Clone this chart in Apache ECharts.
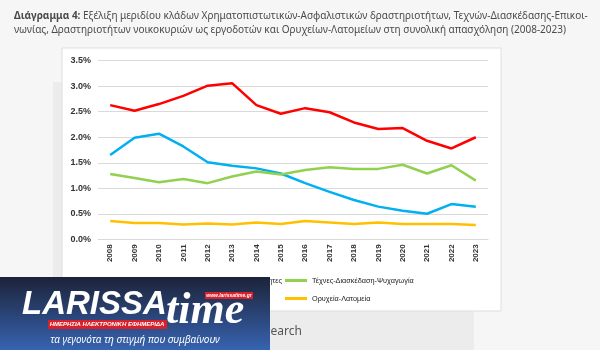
<!DOCTYPE html>
<html>
<head>
<meta charset="utf-8">
<script src="https://cdn.jsdelivr.net/npm/echarts@6/dist/echarts.min.js"></script>
<style>
  html, body { margin: 0; padding: 0; background: #f6f6f6; }
  #chart { width: 600px; height: 350px; }
</style>
</head>
<body>
<div id="chart"></div>
<script>
// δεδομένα
const years = ['2008', '2009', '2010', '2011', '2012', '2013', '2014', '2015',
  '2016', '2017', '2018', '2019', '2020', '2021', '2022', '2023']
const financeName = 'Χρηματοπιστωτικές-Ασφαλιστικές δραστηριότητες'
const householdsName = 'Δραστηριότητες νοικοκυριών ως εργοδότες'
const artsName = 'Τέχνες-Διασκέδαση-Ψυχαγωγία'
const miningName = 'Ορυχεία-Λατομεία'
const finance = [2.63, 2.52, 2.65, 2.81, 3.01, 3.06, 2.63, 2.46, 2.57, 2.49, 2.29, 2.16, 2.18, 1.93, 1.78, 2.0]
const households = [1.65, 1.99, 2.07, 1.82, 1.51, 1.44, 1.39, 1.29, 1.10, 0.93, 0.77, 0.64, 0.56, 0.50, 0.69, 0.64]
const arts = [1.28, 1.20, 1.12, 1.18, 1.10, 1.23, 1.33, 1.27, 1.36, 1.41, 1.38, 1.38, 1.46, 1.29, 1.45, 1.15]
const mining = [0.36, 0.32, 0.32, 0.29, 0.31, 0.29, 0.33, 0.30, 0.36, 0.33, 0.30, 0.33, 0.30, 0.30, 0.30, 0.28]

const chart = echarts.init(document.getElementById('chart'))

const line = (name, data, color) => ({
  name,
  type: 'line',
  data,
  symbol: 'none',
  smooth: false,
  lineStyle: { color, width: 2.5 },
  itemStyle: { color },
  animation: false
})

const legendText = { fontSize: 7.3, color: '#222', fontFamily: 'Liberation Sans' }

chart.setOption({
  backgroundColor: '#f6f6f6',
  animation: false,
  grid: { left: 98, right: 112, top: 60.7, bottom: 110.7 },
  xAxis: {
    type: 'category',
    data: years,
    boundaryGap: true,
    axisTick: { show: false },
    axisLine: { lineStyle: { color: '#d9d9d9' } },
    axisLabel: {
      rotate: 90, margin: 5, fontSize: 8, color: '#333',
      fontFamily: 'Liberation Sans', fontWeight: 'bold'
    }
  },
  yAxis: {
    type: 'value',
    min: 0, max: 3.5, interval: 0.5,
    axisLine: { show: false },
    axisTick: { show: false },
    splitLine: { lineStyle: { color: '#d9d9d9', width: 1 } },
    axisLabel: {
      margin: 7, fontSize: 9, color: '#333', fontFamily: 'Liberation Sans', fontWeight: 'bold',
      formatter: v => v.toFixed(1) + '%'
    }
  },
  legend: [
    {
      data: [financeName, householdsName],
      orient: 'vertical', right: 318, top: 277, padding: 0,
      itemWidth: 22, itemHeight: 3, itemGap: 11, icon: 'rect',
      textStyle: legendText
    },
    {
      data: [artsName, miningName],
      orient: 'vertical', left: 285, top: 277, padding: 0,
      itemWidth: 22, itemHeight: 3, itemGap: 11, icon: 'rect',
      textStyle: legendText
    }
  ],
  series: [
    line(financeName, finance, '#ff0000'),
    line(householdsName, households, '#00b0f0'),
    line(artsName, arts, '#92d050'),
    line(miningName, mining, '#ffc000')
  ],
  graphic: [
    // φόντο σελίδας
    { type: 'rect', z: -20, shape: { x: 53, y: 82, width: 421, height: 268 }, style: { fill: '#ececec' } },
    { type: 'rect', z: -10, shape: { x: 62, y: 48, width: 439, height: 263 }, style: { fill: '#fff', stroke: '#dedede', lineWidth: 1 } },
    {
      type: 'text', x: 14, y: 9, z: 5,
      style: {
        text: '{b|Διάγραμμα 4:} Εξέλιξη μεριδίου κλάδων Χρηματοπιστωτικών-Ασφαλιστικών δραστηριοτήτων, Τεχνών-Διασκέδασης-Επικοι-\nνωνίας, Δραστηριοτήτων νοικοκυριών ως εργοδοτών και Ορυχείων-Λατομείων στη συνολική απασχόληση (2008-2023)',
        fill: '#4a4a4a', font: '10px "Noto Sans"', lineHeight: 14,
        rich: { b: { fontWeight: 'bold', fontSize: 10, fontFamily: 'Noto Sans', fill: '#4a4a4a', lineHeight: 14 } }
      }
    },
    { type: 'text', x: 264, y: 332, z: 5, style: { text: 'Search', font: '12px "Noto Sans"', fill: '#555', verticalAlign: 'middle' } },
    // λογότυπο
    {
      type: 'rect', z: 50, shape: { x: 0, y: 277, width: 270, height: 73 },
      style: {
        fill: new echarts.graphic.LinearGradient(0, 0, 0, 1, [
          { offset: 0, color: '#1c2339' },
          { offset: 1, color: '#3763b0' }
        ])
      }
    },
    { type: 'rect', z: 51, shape: { x: 48, y: 320, width: 119, height: 9 }, style: { fill: '#d9202a' } },
    { type: 'rect', z: 51, shape: { x: 205, y: 292, width: 48, height: 7 }, style: { fill: '#d9202a' } },
    { type: 'text', z: 52, x: 22, y: 305, style: { text: 'LARISSA', font: 'italic bold 33px "Liberation Sans"', fill: '#fff', verticalAlign: 'middle' } },
    { type: 'text', z: 52, x: 166, y: 312, style: { text: 'time', font: 'italic bold 44px "Liberation Serif"', fill: '#fff', verticalAlign: 'middle' } },
    { type: 'text', z: 53, x: 107, y: 324.5, style: { text: 'ΗΜΕΡΗΣΙΑ ΗΛΕΚΤΡΟΝΙΚΗ ΕΦΗΜΕΡΙΔΑ', font: 'italic bold 6px "Liberation Sans"', fill: '#fff', align: 'center', verticalAlign: 'middle' } },
    { type: 'text', z: 53, x: 229, y: 295.5, style: { text: 'www.larissatime.gr', font: 'italic bold 5px "Liberation Sans"', fill: '#fff', align: 'center', verticalAlign: 'middle' } },
    { type: 'text', z: 52, x: 135, y: 340, style: { text: 'τα γεγονότα τη στιγμή που συμβαίνουν', font: 'italic 10px "Noto Sans"', fill: '#fff', align: 'center', verticalAlign: 'middle' } }
  ]
})
</script>
</body>
</html>
